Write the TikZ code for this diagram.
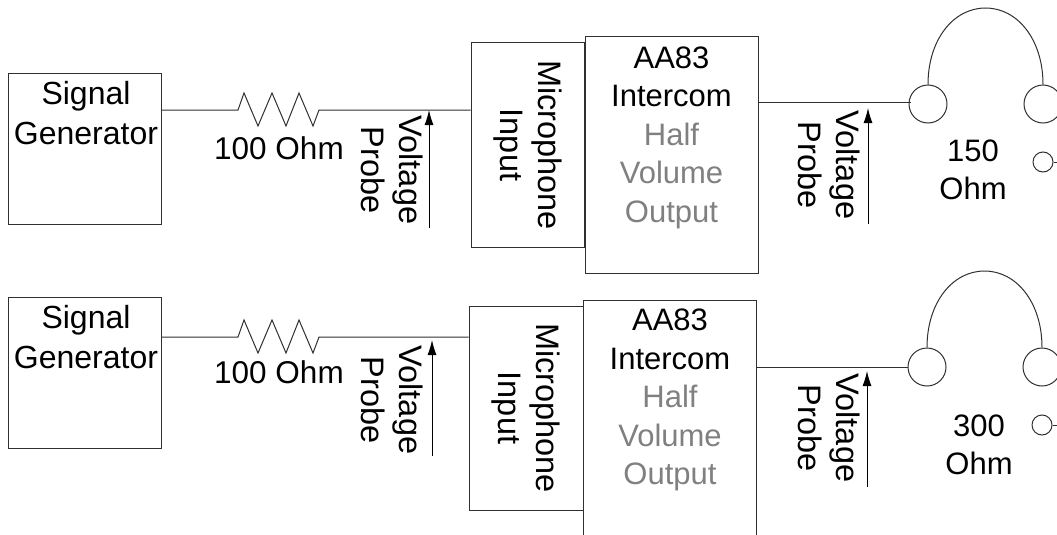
\documentclass[tikz,border=0pt]{standalone}
\usepackage{fontspec}
\setmainfont{Liberation Sans}
\usetikzlibrary{positioning,arrows.meta}
\definecolor{halfgray}{HTML}{808080}
\definecolor{edgegray}{HTML}{303030}
\tikzset{arista/.style={line width=1pt,draw=edgegray}}
\tikzset{probe/.style={line width=1pt,-{Latex[length=15pt,width=9pt]}}}
\tikzset{blackbox/.style={draw=edgegray,line width=1pt,rectangle,inner sep=0pt}}
\tikzset{ear/.style={draw=edgegray,line width=1pt,circle,inner sep=0pt,minimum size=38pt}}
\tikzset{jack/.style={draw=edgegray,line width=1pt,circle,inner sep=0pt,minimum size=20pt}}
\tikzset{tag/.style={font=\fontsize{31}{38.5}\selectfont,align=center,inner sep=0pt}}
\tikzset{sidetag/.style={font=\fontsize{32.5}{38}\selectfont,align=center,inner sep=0pt,rotate=-90}}
\tikzset{sigtag/.style={font=\fontsize{32}{40}\selectfont,align=center,inner sep=0pt}}
\tikzset{restag/.style={font=\fontsize{31.5}{38}\selectfont,inner sep=0pt}}
\begin{document}
\begin{tikzpicture}[x=1pt,y=-1pt]
            \useasboundingbox (0,0) rectangle (1057,535);

            % upper test
            \node[blackbox,minimum width=153,minimum height=151] (sig1) at (84.5,148.5) {};
            \node[sigtag] (sig1text) at (86,113) {Signal\\Generator};
            \node[blackbox,minimum width=113,minimum height=204] (mic1) at (527.5,145) {};
            \node[sidetag] (mic1text) at (528,145) {Microphone\\Input};
            \node[blackbox,minimum width=173,minimum height=236,right=0pt of mic1.east,yshift=-10pt] (aa1) {};
            \node[tag,below=10pt of aa1.north] (aa1text) {AA83\\Intercom\\\textcolor{halfgray}{Half}\\\textcolor{halfgray}{Volume}\\\textcolor{halfgray}{Output}};
            \node[restag] (res1text) at (279,148) {100 Ohm};
            \node[sidetag] (volt1a) at (392,170) {Voltage\\Probe};
            \node[sidetag] (volt1b) at (829,165) {Voltage\\Probe};
            \node[ear] (ear1a) at (928,104) {};
            \node[ear] (ear1b) at (1043,104) {};
            \node[jack] (jack1) at (1043,162) {};
            \node[tag] (ohm1) at (973,170) {150\\Ohm};

            \coordinate (res1in) at (238,110);
            \coordinate (res1out) at (319,110);
            \coordinate (band1) at (985.5,8);
            \coordinate (jack1end) at (1060,162);
            \coordinate (tip1a) at (429,110);
            \coordinate (base1a) at (429,228);
            \coordinate (tip1b) at (868,108);
            \coordinate (base1b) at (868,224);

            \draw[arista] (sig1.east |- res1in) -- (res1in) -- ++(6,-17) -- ++(14,33) -- ++(14,-33) -- ++(14,33) -- ++(13,-33) -- ++(14,33) -- (res1out) -- (mic1.west |- res1in);
            \draw[arista] (aa1.east |- ear1a.west) ++(0,-2) -- ++(152,0);
            \draw[arista] (ear1a.north) .. controls +(0,-45) and +(-32,0) .. (band1) .. controls +(32,0) and +(0,-45) .. (ear1b.north);
            \draw[arista] (jack1) -- (jack1end);
            \draw[probe] (base1a) -- (tip1a);
            \draw[probe] (base1b) -- (tip1b);

            % lower test
            \node[blackbox,minimum width=153,minimum height=151] (sig2) at (84.5,372.5) {};
            \node[sigtag] (sig2text) at (86,337) {Signal\\Generator};
            \node[blackbox,minimum width=114,minimum height=204] (mic2) at (526,408) {};
            \node[sidetag] (mic2text) at (526,408) {Microphone\\Input};
            \node[blackbox,minimum width=173,minimum height=270,anchor=north west] (aa2) at (583,300) {};
            \node[tag,below=9pt of aa2.north] (aa2text) {AA83\\Intercom\\\textcolor{halfgray}{Half}\\\textcolor{halfgray}{Volume}\\\textcolor{halfgray}{Output}};
            \node[restag] (res2text) at (279,372) {100 Ohm};
            \node[sidetag] (volt2a) at (392,400) {Voltage\\Probe};
            \node[sidetag] (volt2b) at (829,428) {Voltage\\Probe};
            \node[ear] (ear2a) at (927,367) {};
            \node[ear] (ear2b) at (1042,367) {};
            \node[jack] (jack2) at (1042,425) {};
            \node[tag] (ohm2) at (979,445) {300\\Ohm};

            \coordinate (res2in) at (238,337);
            \coordinate (res2out) at (319,337);
            \coordinate (band2) at (984.5,271);
            \coordinate (jack2end) at (1060,425);
            \coordinate (tip2a) at (432,340);
            \coordinate (base2a) at (432,456);
            \coordinate (tip2b) at (867,371);
            \coordinate (base2b) at (867,487);

            \draw[arista] (sig2.east |- res2in) -- (res2in) -- ++(6,-17) -- ++(14,33) -- ++(14,-33) -- ++(14,33) -- ++(13,-33) -- ++(14,33) -- (res2out) -- (mic2.west |- res2in);
            \draw[arista] (aa2.east |- ear2a.west) -- (ear2a.west);
            \draw[arista] (ear2a.north) .. controls +(0,-45) and +(-32,0) .. (band2) .. controls +(32,0) and +(0,-45) .. (ear2b.north);
            \draw[arista] (jack2) -- (jack2end);
            \draw[probe] (base2a) -- (tip2a);
            \draw[probe] (base2b) -- (tip2b);
        \end{tikzpicture}
\end{document}
